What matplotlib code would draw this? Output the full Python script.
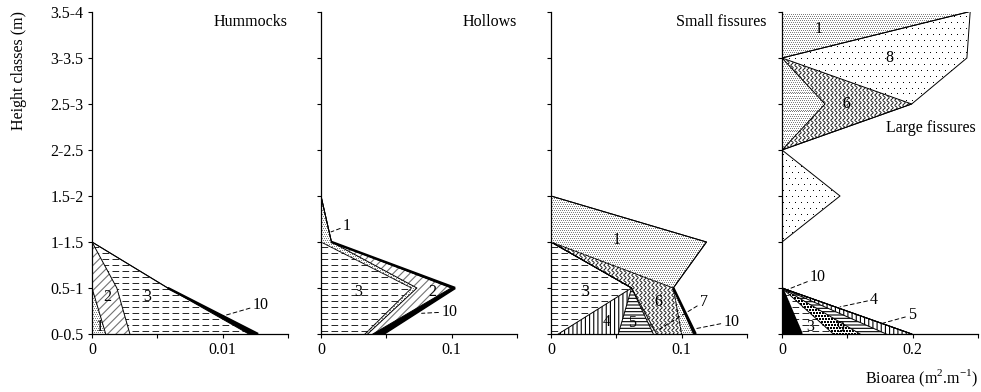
import numpy as np
import matplotlib.pyplot as plt

plt.rcParams['font.family'] = ['Liberation Serif', 'DejaVu Serif']
plt.rcParams['font.size'] = 11.5
plt.rcParams['mathtext.fontset'] = 'custom'
plt.rcParams['mathtext.rm'] = 'Liberation Serif'
plt.rcParams['hatch.linewidth'] = 0.8

heights = ["0-0.5", "0.5-1", "1-1.5", "1.5-2", "2-2.5", "2.5-3", "3-3.5", "3.5-4"]

# bioarea per height class, listed in stacking order (axis outwards)
hum_1 = [0.00105, 0, 0, 0, 0, 0, 0, 0]
hum_2 = [0.00185, 0.0019, 0, 0, 0, 0, 0, 0]
hum_3 = [0.0091, 0.0039, 0, 0, 0, 0, 0, 0]
hum_10 = [0.0007, 0, 0, 0, 0, 0, 0, 0]

hol_3 = [0.0337, 0.0694, 0, 0, 0, 0, 0, 0]
hol_1 = [0.002, 0.004, 0.008, 0, 0, 0, 0, 0]
hol_2 = [0.004, 0.0262, 0, 0, 0, 0, 0, 0]
hol_10 = [0.008, 0.003, 0, 0, 0, 0, 0, 0]

sf_3 = [0.0056, 0.0617, 0, 0, 0, 0, 0, 0]
sf_4 = [0.0459, 0, 0, 0, 0, 0, 0, 0]
sf_5 = [0.0268, 0, 0, 0, 0, 0, 0, 0]
sf_7 = [0.0025, 0, 0, 0, 0, 0, 0, 0]
sf_6 = [0.0192, 0.0319, 0, 0, 0, 0, 0, 0]
sf_1 = [0.009, 0, 0.119, 0, 0, 0, 0, 0]
sf_10 = [0.0017, 0, 0, 0, 0, 0, 0, 0]

lf_10 = [0.030, 0, 0, 0, 0, 0, 0, 0]
lf_3 = [0.0486, 0, 0, 0, 0, 0, 0, 0]
lf_9 = [0.041, 0, 0, 0, 0, 0, 0, 0]
lf_5 = [0.040, 0, 0, 0, 0, 0, 0, 0]
lf_4 = [0.0389, 0, 0, 0, 0, 0, 0, 0]
lf_1 = [0, 0, 0, 0, 0, 0.0658, 0, 0.285]
lf_6 = [0, 0, 0, 0, 0, 0.1327, 0, 0]
lf_8 = [0, 0, 0, 0.0888, 0, 0, 0.283, 0.003]

panels = [
    ("Hummocks", [("1", hum_1), ("2", hum_2), ("3", hum_3), ("10", hum_10)],
     [0, 0.005, 0.01, 0.015], ["0", "", "0.01", ""]),
    ("Hollows", [("3", hol_3), ("1", hol_1), ("2", hol_2), ("10", hol_10)],
     [0, 0.05, 0.1, 0.15], ["0", "", "0.1", ""]),
    ("Small fissures", [("3", sf_3), ("4", sf_4), ("5", sf_5), ("7", sf_7),
                        ("6", sf_6), ("1", sf_1), ("10", sf_10)],
     [0, 0.05, 0.1, 0.15], ["0", "", "0.1", ""]),
    ("Large fissures", [("10", lf_10), ("3", lf_3), ("9", lf_9), ("5", lf_5),
                        ("4", lf_4), ("1", lf_1), ("6", lf_6), ("8", lf_8)],
     [0, 0.1, 0.2, 0.3], ["0", "", "0.2", ""]),
]

# fill style of each series
STYLES = {
    "1": ("dots", dict(dx=2, dy=2, size=0.7, color="0.5")),
    "2": ("hatch", dict(hatch="////", color="0.45")),
    "3": ("dash", {}),
    "4": ("hatch", dict(hatch="||||", color="k")),
    "5": ("hatch", dict(hatch="-----", color="k")),
    "6": ("wave", {}),
    "7": ("hatch", dict(hatch="xxxx", color="0.3")),
    "8": ("dots", dict(dx=6, dy=6, size=0.7, color="k")),
    "9": ("dots", dict(dx=3, dy=3, size=1.6, color="k")),
    "10": ("solid", {}),
}

# series labels: (panel, text, x, y, leader end or None)
labels = [
    (0, "1", 0.0006, 0.15, None), (0, "2", 0.00115, 0.8, None),
    (0, "3", 0.0042, 0.8, None), (0, "10", 0.0123, 0.63, (0.0100, 0.39)),
    (1, "1", 0.0168, 2.35, (0.0077, 2.22)), (1, "3", 0.0283, 0.91, None),
    (1, "2", 0.085, 0.91, None), (1, "10", 0.092, 0.48, (0.077, 0.45)),
    (2, "1", 0.0503, 2.04, None), (2, "3", 0.026, 0.92, None),
    (2, "4", 0.0426, 0.27, None), (2, "5", 0.0618, 0.23, None),
    (2, "6", 0.0821, 0.70, None), (2, "7", 0.114, 0.70, (0.0809, 0.07)),
    (2, "10", 0.132, 0.27, (0.1115, 0.12)),
    (3, "1", 0.0556, 6.62, None), (3, "8", 0.165, 6.01, None),
    (3, "6", 0.099, 5.0, None), (3, "3", 0.043, 0.16, None),
    (3, "9", 0.089, 0.12, None), (3, "10", 0.043, 1.23, (0.0072, 0.96)),
    (3, "4", 0.135, 0.75, (0.089, 0.59)), (3, "5", 0.193, 0.41, (0.153, 0.23)),
]

W_PX, H_PX = 196, 322
FIG_W, FIG_H = 981, 392


def dashes(ax, path, trans):
    """Dashed horizontal lines clipped to one area."""
    for yy in np.arange(3, H_PX, 6) / H_PX:
        ln, = ax.plot([0, 1], [yy, yy], transform=ax.transAxes, color="k",
                      lw=0.6, ls=(0, (8, 4)))
        ln.set_clip_path(path, trans)


def waves(ax, path, trans):
    """Wavy vertical lines clipped to one area."""
    t = np.linspace(0, H_PX, 700)
    for x0 in np.arange(2, W_PX, 4):
        ln, = ax.plot((x0 + 1.2 * np.sin(2 * np.pi * t / 5)) / W_PX, t / H_PX,
                      transform=ax.transAxes, color="k", lw=0.6)
        ln.set_clip_path(path, trans)


def dots(ax, path, trans, dx, dy, size, color):
    """Staggered grid of small square dots clipped to one area."""
    xs, ys = [], []
    for row, yp in enumerate(np.arange(0.5, H_PX, dy)):
        xp = np.arange(0.5 + (row % 2) * dx / 2, W_PX, dx)
        xs.append(xp)
        ys.append(np.full(len(xp), yp))
    xs = np.concatenate(xs) / W_PX
    ys = np.concatenate(ys) / H_PX
    ln, = ax.plot(xs, ys, ls="none", marker="s", ms=size, mew=0, color=color,
                  transform=ax.transAxes)
    ln.set_clip_path(path, trans)


def draw_panel(ax, series):
    y = np.arange(len(heights))
    inner = np.zeros(len(heights))
    for name, vals in series:
        vals = np.array(vals, dtype=float)
        outer = inner + vals
        kind, opts = STYLES[name]
        if kind == "solid":
            ax.fill_betweenx(y, inner, outer, facecolor="k", linewidth=0)
        elif kind == "hatch":
            ax.fill_betweenx(y, inner, outer, facecolor="white",
                             edgecolor=opts["color"], hatch=opts["hatch"], linewidth=0)
        else:
            coll = ax.fill_betweenx(y, inner, outer, facecolor="white", linewidth=0)
            path, trans = coll.get_paths()[0], coll.get_transform()
            if kind == "dash":
                dashes(ax, path, trans)
            elif kind == "wave":
                waves(ax, path, trans)
            else:
                dots(ax, path, trans, **opts)
        ax.plot(outer, y, color="k", lw=0.7)
        if name == "10":
            # heavy edge only where the series is present
            for i in range(len(y) - 1):
                if vals[i] > 0 or vals[i + 1] > 0:
                    ax.plot(outer[i:i + 2], y[i:i + 2], color="k", lw=1.8,
                            solid_capstyle="butt")
        inner = outer


fig = plt.figure(figsize=(FIG_W / 100, FIG_H / 100), dpi=100)
lefts = [92, 321, 551, 782]
axes = []
for k, (title, series, ticks, ticklabels) in enumerate(panels):
    ax = fig.add_axes([lefts[k] / FIG_W, 58 / FIG_H, W_PX / FIG_W, H_PX / FIG_H])
    draw_panel(ax, series)
    ax.set_xlim(0, ticks[-1])
    ax.set_ylim(0, len(heights) - 1)
    ax.set_xticks(ticks)
    ax.set_xticklabels(ticklabels)
    ax.set_yticks(range(len(heights)))
    if k == 0:
        ax.set_yticklabels(heights)
    else:
        ax.set_yticklabels([])
    for side in ("top", "right"):
        ax.spines[side].set_visible(False)
    for side in ("left", "bottom"):
        ax.spines[side].set_linewidth(0.9)
    ax.tick_params(direction="out", length=3, width=0.8, pad=3)
    axes.append(ax)

axes[0].text(1.0, 0.969, "Hummocks", transform=axes[0].transAxes, ha="right", va="center")
axes[1].text(1.0, 0.969, "Hollows", transform=axes[1].transAxes, ha="right", va="center")
axes[2].text(1.1, 0.969, "Small fissures", transform=axes[2].transAxes, ha="right", va="center")
axes[3].text(0.99, 0.64, "Large fissures", transform=axes[3].transAxes, ha="right", va="center")

for k, s, x, yv, lead in labels:
    ax = axes[k]
    if lead is None:
        ax.text(x, yv, s, ha="center", va="center")
    else:
        ax.annotate(s, xy=lead, xytext=(x, yv), ha="left", va="center",
                    arrowprops=dict(arrowstyle="-", lw=0.7, ls=(0, (4, 3)),
                                    color="k", shrinkA=0, shrinkB=0))

fig.text(19 / FIG_W, 1 - 70 / FIG_H, "Height classes (m)", rotation=90,
         ha="center", va="center")
fig.text(978 / FIG_W, 1 - 378 / FIG_H, "Bioarea (m$^{2}$.m$^{-1}$)",
         ha="right", va="center")

fig.savefig("out.png", dpi=100)
